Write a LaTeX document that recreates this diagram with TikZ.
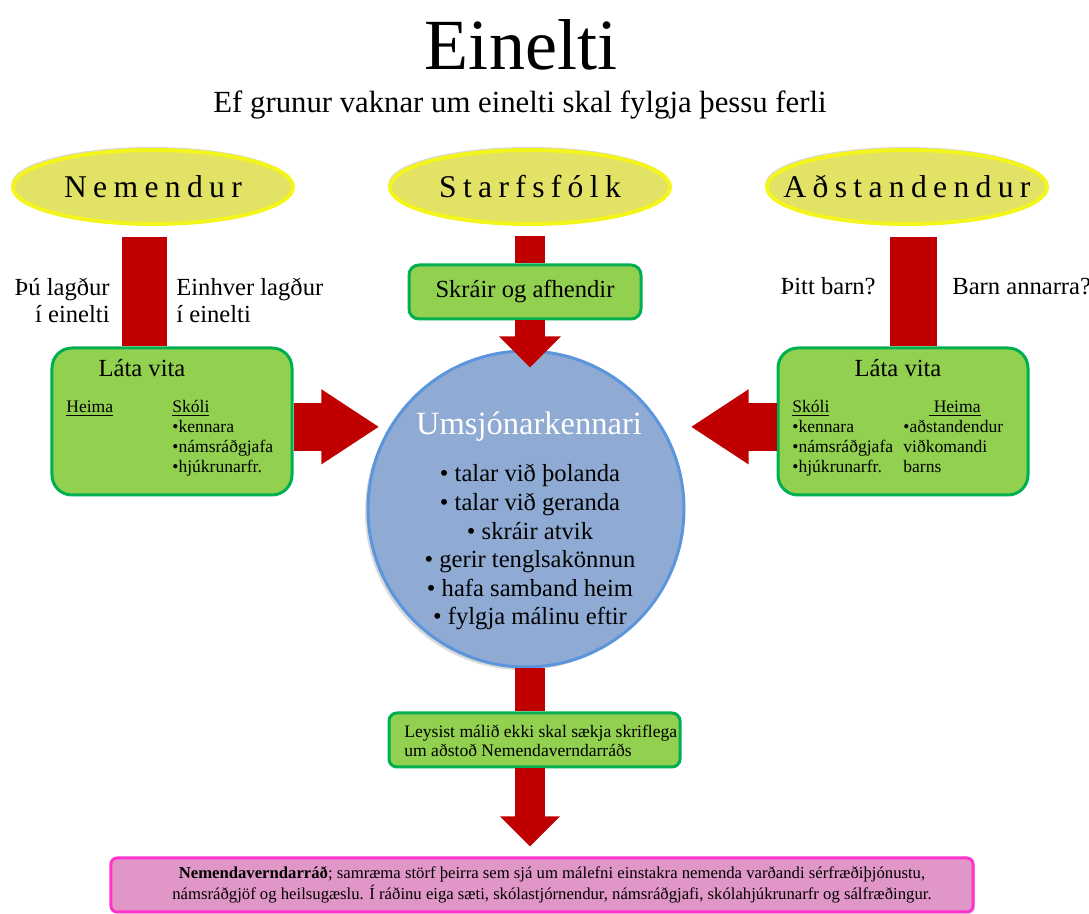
\documentclass[tikz,border=0pt]{standalone}
\usepackage{fontspec}
\setmainfont{Liberation Serif}
\usetikzlibrary{arrows.meta,shadows,shapes.geometric}

\definecolor{barred}{HTML}{C00000}
\definecolor{boxgreen}{HTML}{92D050}
\definecolor{boxedge}{HTML}{00B050}
\definecolor{ovalfill}{HTML}{E2E266}
\definecolor{ovaledge}{HTML}{F5F51E}
\definecolor{ringfill}{HTML}{8FAAD3}
\definecolor{ringedge}{HTML}{5B96DC}
\definecolor{pinkfill}{HTML}{E196C8}
\definecolor{pinkedge}{HTML}{FF33CC}

\tikzset{
  oval/.style={ellipse, draw=ovaledge, fill=ovalfill, line width=0.8mm,
    minimum width=56mm, minimum height=14.8mm, inner xsep=-14mm, inner ysep=0pt,
    font=\fontsize{18}{20}\selectfont\addfontfeatures{LetterSpace=20},
    drop shadow={shadow xshift=-0.3mm, shadow yshift=0.6mm, opacity=0.3}},
  greenbox/.style={draw=boxedge, fill=boxgreen, line width=0.6mm, inner sep=0pt},
  ring/.style={circle, draw=ringedge, fill=ringfill, line width=0.6mm, inner sep=0pt,
    drop shadow={shadow xshift=-0.6mm, shadow yshift=-0.6mm, opacity=0.3}},
  pinkbox/.style={draw=pinkedge, fill=pinkfill, line width=0.6mm, rounded corners=1.2mm,
    inner sep=0pt, drop shadow={shadow xshift=0.4mm, shadow yshift=-0.4mm, opacity=0.25}},
  bar/.style={draw=barred, line width=#1},
  bigtext/.style={inner sep=0pt, font=\fontsize{14}{16}\selectfont},
  smalltext/.style={inner sep=0pt, font=\fontsize{10}{11.5}\selectfont},
  leystext/.style={inner sep=0pt, font=\fontsize{10}{12}\selectfont},
  tinytext/.style={inner sep=0pt, font=\fontsize{9.5}{11}\selectfont},
}

\begin{document}
\begin{tikzpicture}[x=0.2mm, y=-0.2mm]
  \useasboundingbox (0,0) rectangle (1089,914);

  % heading
  \node[inner sep=0pt, font=\fontsize{41}{46}\selectfont, anchor=base] (title) at (521,70) {Einelti};
  \node[inner sep=0pt, font=\fontsize{17.5}{20}\selectfont, anchor=base] (subtitle) at (520,113) {Ef grunur vaknar um einelti skal fylgja þessu ferli};

  % the three groups
  \node[oval] (nem) at (153,187) {Nemendur};
  \node[oval] (starf) at (530,187) {Starfsfólk};
  \node[oval] (adst) at (907,187) {Aðstandendur};

  \node[bigtext, anchor=base east] (thu1) at (110,296) {Þú lagður};
  \node[bigtext, anchor=base east] (thu2) at (110,323) {í einelti};
  \node[bigtext, anchor=base west] (einh1) at (176,296) {Einhver lagður};
  \node[bigtext, anchor=base west] (einh2) at (176,323) {í einelti};
  \node[bigtext, anchor=base east] (thitt) at (876,295) {Þitt barn?};
  \node[bigtext, anchor=base west] (annar) at (952,295) {Barn annarra?};

  \node[greenbox, bigtext, rounded corners=2mm, minimum width=46.4mm, minimum height=10.8mm] (skra) at (525,292) {Skráir og afhendir};

  % left box
  \node[greenbox, rounded corners=4mm, minimum width=48mm, minimum height=29.4mm] (lata1) at (172,421.5) {};
  \node[bigtext, anchor=base] (lv1) at (142,377) {Láta vita};
  \node[smalltext, anchor=base west] (heima1) at (66,413) {\underline{Heima}};
  \node[smalltext, anchor=base west] (skoli1) at (172,413) {\underline{Skóli}};
  \foreach \t [count=\i] in {kennara,námsráðgjafa,hjúkrunarfr.}
    \node[smalltext, anchor=base west] (sk1\i) at (172,413+20*\i) {\textbullet\t};

  % right box
  \node[greenbox, rounded corners=4mm, minimum width=50mm, minimum height=29.4mm] (lata2) at (903,421.5) {};
  \node[bigtext, anchor=base] (lv2) at (898,377) {Láta vita};
  \node[smalltext, anchor=base west] (skoli2) at (792,413) {\underline{Skóli}};
  \node[smalltext, anchor=base west] (heima2) at (929,413) {\underline{~Heima}};
  \foreach \t [count=\i] in {kennara,námsráðgjafa,hjúkrunarfr.}
    \node[smalltext, anchor=base west] (sk2\i) at (792,413+20*\i) {\textbullet\t};
  \foreach \t [count=\i] in {\textbullet aðstandendur,viðkomandi,barns}
    \node[smalltext, anchor=base west] (hm2\i) at (903,413+20*\i) {\t};

  % teacher
  \node[ring, minimum size=63.2mm] (umsj) at (526,509) {};
  \node[inner sep=0pt, font=\fontsize{18.5}{20}\selectfont, text=white, anchor=base] (umsjt) at (529,435) {Umsjónarkennari};
  \foreach \t [count=\i from 0] in {talar við þolanda,talar við geranda,skráir atvik,gerir tenglsakönnun,hafa samband heim,fylgja málinu eftir}
    \node[bigtext, anchor=base] (verk\i) at (530,482+28.6*\i) {\textbullet\ \t};

  \node[greenbox, rounded corners=1.6mm, minimum width=58.2mm, minimum height=10.8mm] (leys) at (534.5,740) {};
  \node[leystext, anchor=base west] (leys1) at (404,738) {Leysist málið ekki skal sækja skriflega};
  \node[leystext, anchor=base west] (leys2) at (404,757) {um aðstoð Nemendaverndarráðs};

  \node[pinkbox, minimum width=172.4mm, minimum height=10.8mm] (nvr) at (542,885) {};
  \node[tinytext, anchor=base] (nvr1) at (552,879) {\textbf{Nemendaverndarráð}; samræma störf þeirra sem sjá um málefni einstakra nemenda varðandi sérfræðiþjónustu,};
  \node[tinytext, anchor=base] (nvr2) at (552,900) {námsráðgjöf og heilsugæslu. Í ráðinu eiga sæti, skólastjórnendur, námsráðgjafi, skólahjúkrunarfr og sálfræðingur.};

  % red connectors
  \draw[bar=9mm, shorten <=2.2mm] ([xshift=-1.7mm]nem.south) -- ([xshift=-1.7mm]nem.south |- lata1.north);
  \draw[bar=9.4mm, shorten <=2.2mm] ([xshift=1.3mm]adst.south) -- ([xshift=1.3mm]adst.south |- lata2.north);
  \draw[bar=6mm, shorten <=2mm] (starf.south) -- (starf.south |- skra.north);
  \draw[bar=6mm, -{Triangle[width=12mm,length=6.2mm]}] (starf.south |- skra.south) -- ([yshift=-3.6mm]starf.south |- umsj.north);
  \draw[bar=9.6mm, -{Triangle[width=14.2mm,length=11.6mm]}, shorten >=2mm] (lata1.east |- umsj.149) -- (umsj.149);
  \draw[bar=9.6mm, -{Triangle[width=14.2mm,length=11.6mm]}, shorten >=5.6mm] (lata2.west |- umsj.31) -- (umsj.31);
  \draw[bar=6mm] (umsj.south -| starf.south) -- (leys.north -| starf.south);
  \draw[bar=6mm, -{Triangle[width=11.6mm,length=6mm]}, shorten >=2mm] (leys.south -| starf.south) -- (nvr.north -| starf.south);
\end{tikzpicture}
\end{document}
